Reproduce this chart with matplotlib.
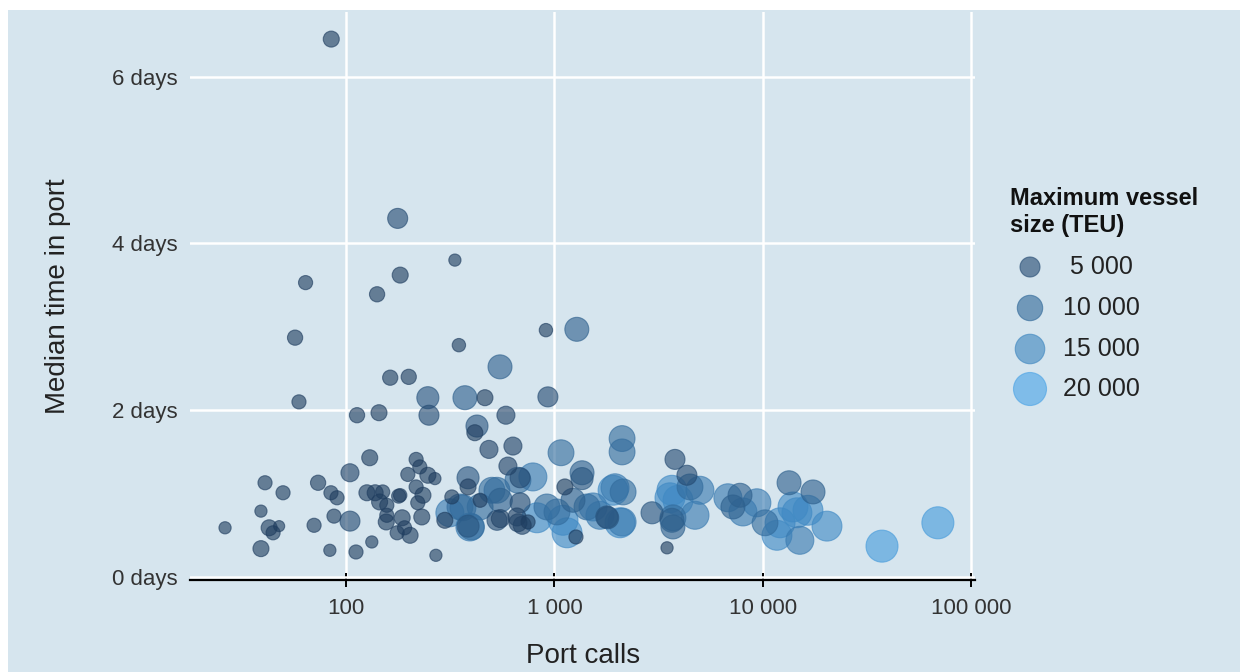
import numpy as np
import matplotlib
matplotlib.use("Agg")
import matplotlib.pyplot as plt
from matplotlib.colors import LinearSegmentedColormap, Normalize
from matplotlib.patches import Rectangle
from matplotlib.ticker import NullLocator

# ---------------- data ----------------
port_calls = [85, 177, 333, 182, 64, 141, 57, 348, 910, 1280, 548, 163, 200, 247, 372, 464, 930, 59.5,
              250, 585, 113, 144, 425, 415, 2110, 2110, 485, 632, 1075, 217, 130, 3785, 4318, 104.5,
              226, 198, 247, 267, 385, 598, 788, 684, 1356, 1356, 1122, 217, 182, 234, 221, 385, 322,
              440, 530, 550, 684, 920, 315, 364, 298, 385, 400, 440, 530, 550, 661, 747, 700, 824,
              1099, 1149, 1268, 270, 1432, 1910, 1800, 26.3, 39.1, 39.1, 40.9, 49.9, 42.8, 47.8, 44.7,
              70.3, 73.5, 84.7, 90.6, 87.6, 83.7, 104.5, 111.7, 133, 126, 138, 150, 145, 157, 157, 156,
              179, 186, 191, 176, 203, 231, 2134, 1952, 4986, 3660, 3912, 4467, 2938, 3660, 3700, 4721,
              3467, 2110, 6790, 7762, 7178, 8017, 9350, 10230, 12080, 13340, 17380, 14550, 15030, 11670,
              20280, 37240, 69020, 1652, 1782, 2061, 1028, 1227, 1531, 668, 501, 352, 393, 668, 16440,
              13930, 3580, 3700]
median_days = [6.45, 4.30, 3.80, 3.62, 3.53, 3.39, 2.87, 2.78, 2.96, 2.97, 2.52, 2.39, 2.40, 2.15, 2.15,
               2.15, 2.16, 2.10, 1.94, 1.94, 1.94, 1.97, 1.81, 1.73, 1.66, 1.50, 1.53, 1.57, 1.49, 1.41,
               1.43, 1.41, 1.22, 1.25, 1.32, 1.23, 1.22, 1.18, 1.19, 1.33, 1.20, 1.19, 1.25, 1.18, 1.08,
               1.08, 0.98, 0.98, 0.89, 1.08, 0.96, 0.92, 1.04, 0.92, 0.89, 0.84, 0.77, 0.83, 0.68, 0.61,
               0.60, 0.84, 0.68, 0.70, 0.72, 0.66, 0.62, 0.71, 0.68, 0.53, 0.48, 0.26, 0.84, 1.04, 0.71,
               0.59, 0.34, 0.79, 1.13, 1.01, 0.59, 0.61, 0.53, 0.62, 1.13, 1.01, 0.95, 0.73, 0.32, 0.67,
               0.30, 0.42, 1.01, 1.01, 1.02, 0.90, 0.86, 0.74, 0.66, 0.97, 0.71, 0.59, 0.53, 0.50, 0.72,
               1.02, 1.07, 1.04, 1.04, 0.92, 1.08, 0.77, 0.68, 0.60, 0.74, 0.35, 0.66, 0.95, 0.98, 0.84,
               0.78, 0.89, 0.65, 0.65, 1.13, 1.02, 0.77, 0.44, 0.50, 0.61, 0.37, 0.65, 0.74, 0.72, 0.65,
               0.78, 0.92, 0.84, 1.16, 1.04, 0.84, 0.60, 0.65, 0.80, 0.84, 0.95, 0.71]
max_teu = [2400, 5000, 800, 2400, 1500, 2000, 2000, 1200, 1200, 8500, 8500, 2000, 2000, 6700, 8500, 2400,
           5000, 1500, 5000, 3600, 2000, 2400, 6700, 2400, 10500, 10500, 3600, 3600, 10500, 1500, 2400,
           5000, 5000, 3600, 1500, 1500, 2400, 800, 6700, 3600, 13000, 5000, 8500, 6700, 2400, 1500, 1200,
           2400, 1500, 2400, 1500, 1500, 10500, 8500, 5000, 10500, 13000, 10500, 2400, 6700, 10500, 10500,
           5000, 3600, 3600, 1500, 3600, 15500, 15500, 15500, 1500, 800, 10500, 15500, 6700, 800, 2400,
           800, 1500, 1500, 2400, 500, 1500, 1500, 2000, 1500, 1500, 1500, 800, 5000, 1500, 800, 2400,
           2400, 1500, 2400, 1500, 1500, 2400, 1500, 2400, 1500, 1500, 2400, 2400, 10500, 13000, 13000,
           15500, 15500, 10500, 6700, 8500, 8500, 13000, 800, 13000, 13000, 8500, 8500, 13000, 13000,
           10500, 15500, 8500, 8500, 15500, 13000, 15500, 15500, 18500, 18500, 13000, 6700, 15500, 10500,
           8500, 13000, 10500, 10500, 10500, 13000, 3600, 15500, 15500, 15500, 10500]

legend_teu = [5000, 10000, 15000, 20000]
legend_labels = [" 5 000", "10 000", "15 000", "20 000"]
x_ticks = [100, 1000, 10000, 100000]
x_tick_labels = ["100", "1 000", "10 000", "100 000"]
y_ticks = [0, 2, 4, 6]
y_tick_labels = ["0 days", "2 days", "4 days", "6 days"]

# ---------------- style ----------------
plt.rcParams['font.family'] = ['Liberation Sans', 'DejaVu Sans']
W, H = 1240, 672
BG = '#d6e5ee'
cmap = LinearSegmentedColormap.from_list('teu', ['#1f3d5f', '#4aa3e6'])
norm = Normalize(vmin=2500, vmax=20000, clip=True)
ALPHA = 0.62


def marker_area(teu):
    d_px = 7 + 0.184 * np.sqrt(np.asarray(teu, dtype=float))
    return (0.72 * d_px) ** 2


fig = plt.figure(figsize=(W / 100, H / 100), dpi=100)
fig.patch.set_facecolor('white')
fig.add_artist(Rectangle((8 / W, 0), 1, (H - 10) / H, transform=fig.transFigure,
                         facecolor=BG, edgecolor='none', zorder=-10))

ax = fig.add_axes([190 / W, (H - 580) / H, (975 - 190) / W, (580 - 12) / H])
ax.set_facecolor(BG)
ax.set_xscale('log')
ax.set_xlim(17.86, 104000)
ax.set_ylim(-0.036, 6.775)

x = np.asarray(port_calls, dtype=float)
y = np.asarray(median_days, dtype=float)
t = np.asarray(max_teu, dtype=float)
order = np.argsort(-t, kind='stable')
cols = cmap(norm(t[order]))
ax.scatter(x[order], y[order], s=marker_area(t[order]), c=cols, alpha=ALPHA,
           edgecolors=cols, linewidths=0.8, zorder=3)

for s in ['top', 'right', 'left']:
    ax.spines[s].set_visible(False)
ax.spines['bottom'].set_color('black')
ax.spines['bottom'].set_linewidth(1.6)

ax.set_xticks(x_ticks)
ax.set_xticklabels(x_tick_labels)
ax.xaxis.set_minor_locator(NullLocator())
ax.set_yticks(y_ticks)
ax.set_yticklabels(y_tick_labels)
ax.tick_params(axis='x', direction='inout', length=10, width=1.4, color='black',
               labelsize=16, labelcolor='#333333', pad=8)
ax.tick_params(axis='y', length=0, labelsize=16, labelcolor='#333333', pad=9)
ax.grid(True, color='white', linewidth=1.8)
ax.set_axisbelow(True)

fig.text(58 / W, 1 - 296 / H, 'Median time in port', rotation=90, ha='center', va='center',
         fontsize=20, color='#222222')
fig.text(583 / W, 9 / H, 'Port calls', ha='center', va='baseline', fontsize=20, color='#222222')

# ---------------- legend ----------------
lax = fig.add_axes([0, 0, 1, 1], facecolor='none')
lax.set_xlim(0, W)
lax.set_ylim(H, 0)
lax.axis('off')
lax.text(1010, 205, 'Maximum vessel', fontsize=17, fontweight='bold', va='baseline', ha='left',
         color='#111111')
lax.text(1010, 232, 'size (TEU)', fontsize=17, fontweight='bold', va='baseline', ha='left',
         color='#111111')
leg_y = [267, 308, 349, 389]
lt = np.asarray(legend_teu, dtype=float)
lcols = cmap(norm(lt))
lax.scatter([1030] * 4, leg_y, s=marker_area(lt), c=lcols, alpha=ALPHA, edgecolors=lcols,
            linewidths=0.8)
for yy, lab in zip(leg_y, legend_labels):
    lax.text(1063, yy, lab, fontsize=18, va='center', ha='left', color='#222222')

fig.savefig('out.png', dpi=100, facecolor=fig.get_facecolor())
